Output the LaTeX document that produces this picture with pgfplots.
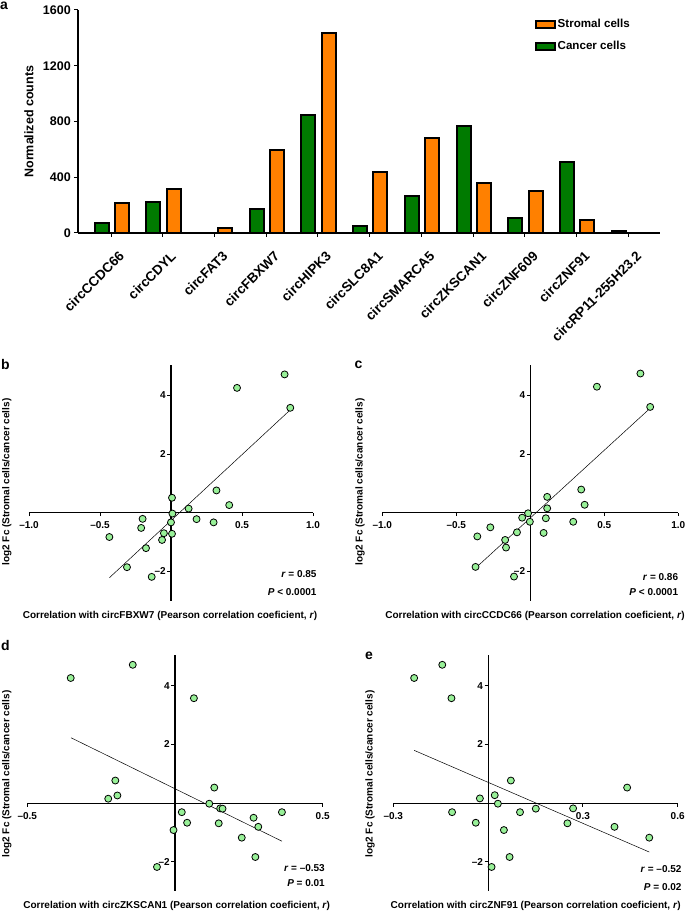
\documentclass[border=0pt]{standalone}
\usepackage{fontspec}
\setmainfont{Liberation Sans}
\usepackage{pgfplots}
\pgfplotsset{compat=1.18}

\definecolor{barorange}{HTML}{FF8000}
\definecolor{bargreen}{HTML}{007A00}
\definecolor{dotgreen}{HTML}{98F098}

\pgfplotsset{
  corrpanel/.style={
    anchor=south west, clip=false,
    axis lines=middle, axis line style={-, line width=1.1pt},
    y=29.3pt, ymin=-3, ymax=5.05,
    ytick={-2,2,4}, yticklabels={\textendash2,2,4},
    tick align=outside, major tick length=3.5pt,
    tick style={black, line width=0.9pt},
    ticklabel style={font=\bfseries\fontsize{10}{11}\selectfont, inner sep=1.5pt},
    xticklabel style={yshift=-4pt},
  },
  dots/.style={only marks, mark=*, mark size=3.5pt,
    mark options={fill=dotgreen, draw=black, line width=0.8pt}},
  fitline/.style={black, line width=0.5pt},
}
\newcommand{\lab}{\bfseries\fontsize{10}{11}\selectfont}
\newcommand{\stat}{\bfseries\fontsize{10}{11}\selectfont}
\newcommand{\panel}{\bfseries\fontsize{14}{14}\selectfont}

\begin{document}
\begin{tikzpicture}
\useasboundingbox (0,0) rectangle (685pt,911pt);

% ---- a: normalized counts
\begin{axis}[
  at={(78pt,678pt)}, anchor=south west, clip=false,
  x=51.73pt, y=0.139375pt,
  xmin=-0.638, xmax=10.61, ymin=0, ymax=1600,
  axis x line=bottom, axis y line=left, axis line style={-, line width=1.4pt},
  xtick={0,...,10},
  xticklabels={circCCDC66, circCDYL, circFAT3, circFBXW7, circHIPK3, circSLC8A1,
    circSMARCA5, circZKSCAN1, circZNF609, circZNF91, circRP11-255H23.2},
  ytick={0,400,800,1200,1600},
  /pgf/number format/1000 sep={},
  /pgf/number format/assume math mode=true,
  tick align=outside, major tick length=4pt, tick style={black, line width=1pt},
  yticklabel style={font=\bfseries\fontsize{12.5}{13}\selectfont, inner sep=3pt},
  xticklabel style={font=\bfseries\fontsize{13.5}{14}\selectfont,
    xshift=10.7pt, yshift=-16.7pt, rotate=45, anchor=east, inner sep=0pt},
  legend style={draw=none, fill=none, at={(0.780,0.976)}, anchor=north west,
    font=\bfseries\fontsize{11.6}{12}\selectfont, row sep=8pt,
    nodes={inner sep=2pt}},
  legend cell align=left, reverse legend,
  legend image code/.code={\draw[#1, line width=1.6pt] (0pt,-3.3pt) rectangle (19pt,3.3pt);},
]
\addplot[ybar, bar width=14pt, bar shift=-9.5pt, fill=bargreen, draw=black, line width=2pt]
  coordinates {(0,72) (1,220) (2,0) (3,175) (4,850) (5,48) (6,263) (7,771) (8,110) (9,510) (10,14)};
\addlegendentry{Cancer cells}
\addplot[ybar, bar width=14pt, bar shift=10.8pt, fill=barorange, draw=black, line width=2pt]
  coordinates {(0,216) (1,319) (2,36) (3,594) (4,1437) (5,438) (6,685) (7,359) (8,299) (9,93) (10,0)};
\addlegendentry{Stromal cells}
\end{axis}
\node[rotate=90] at (29pt,789.3pt) {\bfseries\fontsize{12.5}{13}\selectfont Normalized counts};

% ---- b: circFBXW7
\begin{axis}[corrpanel, at={(29pt,310.4pt)}, x=142pt, xmin=-1, xmax=1,
  xtick={-1,-0.5,0.5,1}, xticklabels={\textendash1.0,\textendash0.5,0.5,1.0}]
\addplot[fitline] coordinates {(-0.434,-2.22) (0.84,3.51)};
\addplot[dots] coordinates {
  (0.80,4.72) (0.465,4.26) (0.84,3.58) (0.32,0.76) (0.41,0.26)
  (0.124,0.14) (0.18,-0.22) (0.30,-0.33) (0.007,0.51) (0.01,-0.03)
  (0.0,-0.33) (0.007,-0.72) (-0.05,-0.70) (-0.063,-0.93) (-0.20,-0.21)
  (-0.21,-0.52) (-0.176,-1.21) (-0.434,-0.83) (-0.31,-1.86) (-0.136,-2.19)};
\end{axis}

% ---- c: circCCDC66
\begin{axis}[corrpanel, at={(382.3pt,310.4pt)}, x=148pt, xmin=-1, xmax=1,
  xtick={-1,-0.5,0.5,1}, xticklabels={\textendash1.0,\textendash0.5,0.5,1.0}]
\addplot[fitline] coordinates {(-0.37,-1.89) (0.80,3.52)};
\addplot[dots] coordinates {
  (0.744,4.75) (0.45,4.30) (0.81,3.61) (0.344,0.79) (0.367,0.27)
  (0.114,0.54) (0.114,0.15) (0.105,-0.19) (0.29,-0.31) (0.09,-0.69)
  (-0.015,-0.02) (-0.055,-0.17) (-0.003,-0.31) (-0.09,-0.67) (-0.27,-0.50)
  (-0.358,-0.81) (-0.17,-0.93) (-0.164,-1.19) (-0.37,-1.85) (-0.11,-2.18)};
\end{axis}

% ---- d: circZKSCAN1
\begin{axis}[corrpanel, at={(27.3pt,20pt)}, x=295.4pt, xmin=-0.5, xmax=0.5,
  xtick={-0.5,0.5}, xticklabels={\textendash0.5,0.5}]
\addplot[fitline] coordinates {(-0.352,2.23) (0.362,-1.30)};
\addplot[dots] coordinates {
  (-0.353,4.27) (-0.143,4.72) (0.064,3.58) (-0.202,0.77) (-0.195,0.26)
  (-0.226,0.15) (0.133,0.53) (0.116,-0.02) (0.153,-0.18) (0.161,-0.19)
  (0.023,-0.31) (0.041,-0.67) (0.148,-0.69) (-0.005,-0.92) (0.266,-0.50)
  (0.282,-0.81) (0.362,-0.31) (0.226,-1.18) (0.272,-1.84) (-0.061,-2.18)};
\end{axis}

% ---- e: circZNF91
\begin{axis}[corrpanel, at={(393.3pt,20pt)}, x=316pt, xmin=-0.3, xmax=0.6,
  xtick={-0.3,0.3,0.6}, xticklabels={\textendash0.3,0.3,0.6}]
\addplot[fitline] coordinates {(-0.234,1.80) (0.51,-1.67)};
\addplot[dots] coordinates {
  (-0.234,4.27) (-0.145,4.72) (-0.116,3.58) (0.072,0.77) (0.44,0.53)
  (-0.026,0.16) (0.021,0.27) (0.031,-0.02) (-0.114,-0.31) (0.101,-0.31)
  (0.151,-0.19) (0.269,-0.18) (-0.039,-0.67) (0.251,-0.69) (0.05,-0.92)
  (0.40,-0.81) (0.51,-1.18) (0.068,-1.84) (0.011,-2.18)};
\end{axis}

% ---- panel letters
\node[anchor=base west, inner sep=0pt] at (0pt,901.5pt) {\panel a};
\node[anchor=base west, inner sep=0pt] at (1pt,541.7pt) {\panel b};
\node[anchor=base west, inner sep=0pt] at (354.3pt,542pt) {\panel c};
\node[anchor=base west, inner sep=0pt] at (1pt,260.3pt) {\panel d};
\node[anchor=base west, inner sep=0pt] at (365pt,251.7pt) {\panel e};

% ---- axis titles of b-e
\node at (170pt,295pt) {\lab Correlation with circFBXW7 (Pearson correlation coeficient, \textit{r})};
\node at (535pt,295pt) {\lab Correlation with circCCDC66 (Pearson correlation coeficient, \textit{r})};
\node at (176.7pt,5pt) {\lab Correlation with circZKSCAN1 (Pearson correlation coeficient, \textit{r})};
\node at (535.7pt,5pt) {\lab Correlation with circZNF91 (Pearson correlation coeficient, \textit{r})};
\node[rotate=90] at (6.7pt,429pt) {\lab log2 Fc (Stromal cells/cancer cells)};
\node[rotate=90] at (360pt,429pt) {\lab log2 Fc (Stromal cells/cancer cells)};
\node[rotate=90] at (6.7pt,137pt) {\lab log2 Fc (Stromal cells/cancer cells)};
\node[rotate=90] at (370pt,137pt) {\lab log2 Fc (Stromal cells/cancer cells)};

% ---- statistics
\node[anchor=east, inner sep=0pt] at (316.7pt,337.3pt) {\stat\textit{r} = 0.85};
\node[anchor=east, inner sep=0pt] at (316.7pt,318.7pt) {\stat\textit{P} < 0.0001};
\node[anchor=east, inner sep=0pt] at (678.3pt,334pt) {\stat\textit{r} = 0.86};
\node[anchor=east, inner sep=0pt] at (678.3pt,318.7pt) {\stat\textit{P} < 0.0001};
\node[anchor=east, inner sep=0pt] at (325pt,42.7pt) {\stat\textit{r} = \textendash0.53};
\node[anchor=east, inner sep=0pt] at (325pt,27.7pt) {\stat\textit{P} = 0.01};
\node[anchor=east, inner sep=0pt] at (681.7pt,42pt) {\stat\textit{r} = \textendash0.52};
\node[anchor=east, inner sep=0pt] at (681.7pt,24.3pt) {\stat\textit{P} = 0.02};
\end{tikzpicture}
\end{document}
